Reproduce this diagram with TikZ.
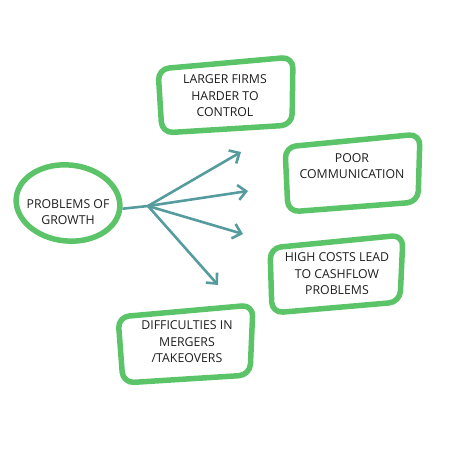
\documentclass[tikz,border=0pt]{standalone}
\usepackage{fontspec}
\setmainfont{Open Sans}
\usepackage{tikz}
\usetikzlibrary{arrows.meta,shapes.geometric,positioning,calc}
\definecolor{rimgreen}{RGB}{92,196,104}
\definecolor{arrowteal}{RGB}{86,156,158}
\definecolor{inkgrey}{RGB}{30,30,30}

\begin{document}
\begin{tikzpicture}[x=1pt,y=-1pt,
    rim/.style={draw=rimgreen, line width=5.5pt, rounded corners=11pt, line join=round},
    ring/.style={draw=rimgreen, line width=5.5pt, ellipse, minimum width=104pt, minimum height=76pt, inner sep=0pt},
    txt/.style={align=center, text=inkgrey, font=\fontsize{12.3}{16.5}\selectfont},
    arr/.style={-{Straight Barb[length=8pt,width=15pt]}, draw=arrowteal, line width=2.6pt, line cap=round}
]
\useasboundingbox (0,0) rectangle (474,474);

% centre
\node[ring, rotate=-6] (growth) at (68,203) {};
\node[txt] (growthtxt) at (68,212) {PROBLEMS OF\\GROWTH};

% the four boxes
\draw[rim] (158,69) -- (293,57) -- (292,125) -- (162,133) -- cycle;
\node[txt] (control) at (225,96) {LARGER FIRMS\\HARDER TO\\CONTROL};

\draw[rim] (285,147) -- (420,134) -- (418,202) -- (288,212) -- cycle;
\node[txt] (comms) at (352,166) {POOR\\COMMUNICATION};

\draw[rim] (270,248) -- (403,235) -- (400,302) -- (272,313) -- cycle;
\node[txt] (cash) at (337,274) {HIGH COSTS LEAD\\TO CASHFLOW\\PROBLEMS};

\draw[rim] (118,317) -- (253,305) -- (250,375) -- (123,383) -- cycle;
\node[txt] (mergers) at (187,342) {DIFFICULTIES IN\\MERGERS\\/TAKEOVERS};

% arrows
\coordinate (hub) at (148,206);
\coordinate (tipA) at (241,152);
\coordinate (tipB) at (248,191);
\coordinate (tipC) at (243,234);
\coordinate (tipD) at (218,285);
\draw[draw=arrowteal, line width=2.6pt] (growth.east) -- (hub);
\draw[arr] (hub) -- (tipA);
\draw[arr] (hub) -- (tipB);
\draw[arr] (hub) -- (tipC);
\draw[arr] (hub) -- (tipD);
\end{tikzpicture}
\end{document}
